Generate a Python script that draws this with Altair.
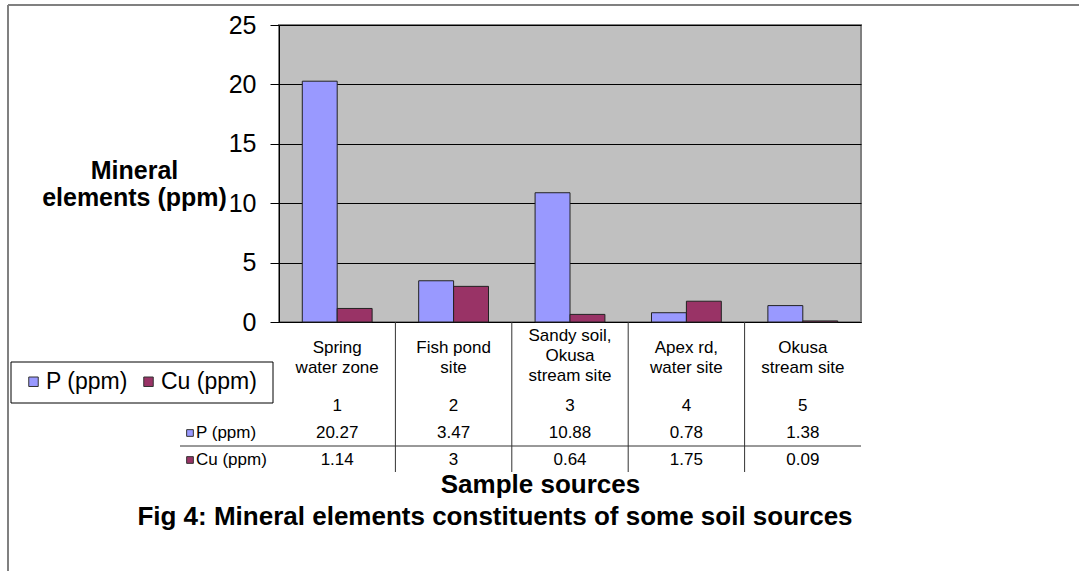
import altair as alt
import pandas as pd

# ---- data ----
keys = ["1", "2", "3", "4", "5"]
labels = ["Spring\nwater zone", "Fish pond\nsite", "Sandy soil,\nOkusa\nstream site",
          "Apex rd,\nwater site", "Okusa\nstream site"]
series = ["P (ppm)", "Cu (ppm)"]
p_vals = [20.27, 3.47, 10.88, 0.78, 1.38]
cu_vals = [1.14, 3, 0.64, 1.75, 0.09]
colors = ["#9999FF", "#993366"]
y_ticks = [0, 5, 10, 15, 20, 25]

FONT = "Liberation Sans"
W, H = 582, 297

long = pd.DataFrame({
    "key": keys * 2,
    "series": [series[0]] * len(keys) + [series[1]] * len(keys),
    "value": p_vals + cu_vals,
    "text": [str(v) for v in p_vals + cu_vals],
})
tbl = pd.DataFrame({"key": keys, "label": labels,
                    "nlines": [lab.count("\n") + 1 for lab in labels]})
ser = pd.DataFrame({"series": series})
one = pd.DataFrame({"a": [0]})

xscale = alt.Scale(domain=keys, paddingInner=0, paddingOuter=0)
row_scale = alt.Scale(domain=series, range=[H + 111, H + 138], padding=0)
color = alt.Color("series:N", scale=alt.Scale(domain=series, range=colors),
                  legend=alt.Legend(orient="none", legendX=-257, legendY=345, direction="horizontal",
                                    title=None, padding=0, symbolType="square", symbolSize=90,
                                    symbolStrokeColor="#333333", symbolStrokeWidth=1,
                                    labelFontSize=23, labelFont=FONT, labelColor="black",
                                    labelOffset=1, columnPadding=9))

bars = alt.Chart(long).mark_bar(stroke="#222222", strokeWidth=1).encode(
    x=alt.X("key:N", scale=xscale,
            axis=alt.Axis(labels=False, ticks=False, domainColor="black", domainWidth=1, grid=False,
                          title="Sample sources", titleX=261, titleY=170, titleAlign="center",
                          titleBaseline="alphabetic", titleFontSize=26, titleFontWeight="bold",
                          titleFont=FONT, titleColor="black")),
    xOffset=alt.XOffset("series:N", scale=alt.Scale(domain=series, paddingInner=0, paddingOuter=0.667)),
    y=alt.Y("value:Q", scale=alt.Scale(domain=[0, 25], nice=False),
            axis=alt.Axis(values=y_ticks, labelFontSize=25, labelFont=FONT, labelColor="black",
                          tickSize=9, tickColor="black", domainColor="black", gridColor="black",
                          gridOpacity=1, labelPadding=14,
                          title=["Mineral", "elements (ppm)"], titleAngle=0, titleAlign="center",
                          titleBaseline="alphabetic", titleX=-145, titleY=153, titleLineHeight=27,
                          titleFontSize=25, titleFontWeight="bold", titleFont=FONT, titleColor="black")),
    color=color,
)

# table: category names (block centred by line count), index row, value rows
names = alt.Chart(tbl).mark_text(fontSize=17, font=FONT, color="black", lineBreak="\n",
                                 baseline="middle", lineHeight=20).encode(
    x=alt.X("key:N", scale=xscale),
    y=alt.Y("nlines:Q", scale=alt.Scale(domain=[2, 3], range=[H + 26, H + 14]), axis=None),
    text="label:N")
index_row = alt.Chart(tbl).mark_text(fontSize=17, font=FONT, color="black", baseline="middle").encode(
    x=alt.X("key:N", scale=xscale), y=alt.value(H + 84), text="key:N")
values_rows = alt.Chart(long).mark_text(fontSize=17, font=FONT, color="black", baseline="middle").encode(
    x=alt.X("key:N", scale=xscale),
    y=alt.Y("series:N", scale=row_scale, axis=None),
    text="text:N")
row_sym = alt.Chart(ser).mark_square(size=45, stroke="#333333", strokeWidth=1, opacity=1).encode(
    x=alt.value(-89),
    y=alt.Y("series:N", scale=row_scale, axis=None),
    color=alt.Color("series:N", scale=alt.Scale(domain=series, range=colors), legend=None))
row_txt = alt.Chart(ser).mark_text(fontSize=17, font=FONT, color="black", align="left",
                                   baseline="middle").encode(
    x=alt.value(-83),
    y=alt.Y("series:N", scale=row_scale, axis=None),
    text="series:N")

vlines = alt.Chart(tbl[tbl.key != keys[0]]).mark_rule(color="#333333", strokeWidth=1).encode(
    x=alt.X("key:N", scale=xscale, bandPosition=0), y=alt.value(H), y2=alt.value(H + 150))
hline = alt.Chart(one).mark_rule(color="#333333", strokeWidth=1).encode(
    x=alt.value(-99), x2=alt.value(W), y=alt.value(H + 124))

legend_box = alt.Chart(one).mark_rect(fill="white", stroke="black", strokeWidth=1).encode(
    x=alt.value(-268), x2=alt.value(-6), y=alt.value(337), y2=alt.value(378))

fig_title = alt.Chart(one).mark_text(fontSize=26, font=FONT, fontWeight="bold", color="black",
                                     align="center", baseline="alphabetic").encode(
    x=alt.value(216), y=alt.value(500),
    text=alt.value("Fig 4: Mineral elements constituents of some soil sources"))

border_top = alt.Chart(one).mark_rule(color="#808080", strokeWidth=2).encode(
    x=alt.value(-271), x2=alt.value(800), y=alt.value(-20))
border_left = alt.Chart(one).mark_rule(color="#808080", strokeWidth=2).encode(
    x=alt.value(-271), y=alt.value(-20), y2=alt.value(546))

chart = alt.layer(
    legend_box, bars, names, index_row, values_rows, row_sym, row_txt, vlines, hline,
    fig_title, border_top, border_left
).resolve_scale(y="independent").properties(
    width=W, height=H,
    autosize=alt.AutoSizeParams(type="none"),
    padding={"left": 279, "top": 25, "right": 1079 - 279 - W, "bottom": 571 - 25 - H},
    background="white",
).configure(font=FONT).configure_view(fill="#C0C0C0", stroke="#808080", strokeWidth=2)

chart.save("out.html", embed_options={"renderer": "svg", "actions": False})
